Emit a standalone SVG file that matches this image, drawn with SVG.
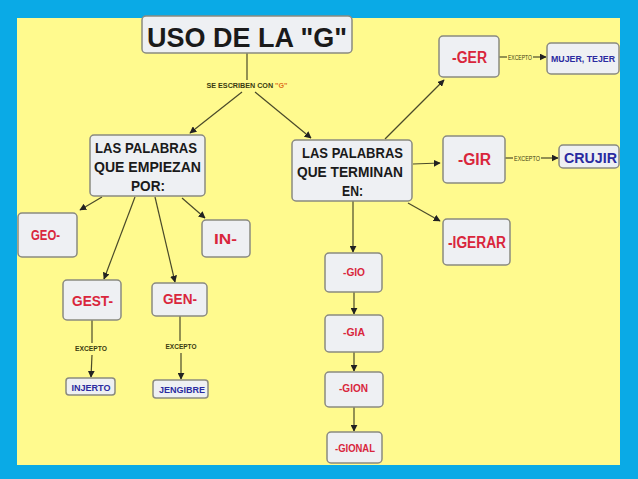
<svg xmlns="http://www.w3.org/2000/svg" width="638" height="479" viewBox="0 0 638 479">
<defs>
<style>
.box{fill:#eef0f3;stroke:#8a8a80;stroke-width:1.5}
.t{font-family:"Liberation Sans",Arial,sans-serif;font-weight:bold;text-anchor:middle}
.blk{fill:#1a1a1a}
.red{fill:#d9263c}
.blu{fill:#2a2aa0}
.lbl{font-family:"Liberation Sans",Arial,sans-serif;font-weight:bold;font-size:6.5px;fill:#3a3a10;text-anchor:middle}
.c{stroke:#4a4a2a;stroke-width:1.2;fill:none}
.ca{stroke:#4a4a2a;stroke-width:1.2;fill:none;marker-end:url(#ah)}
</style>
<marker id="ah" viewBox="0 0 10 10" refX="9" refY="5" markerWidth="7" markerHeight="7" markerUnits="userSpaceOnUse" orient="auto">
<path d="M0,0 L10,5 L0,10 z" fill="#222"/>
</marker>
</defs>
<rect x="0" y="0" width="638" height="479" fill="#0aaae6"/>
<rect x="17" y="18" width="603" height="447" fill="#fffa8e"/>

<g id="connectors">
<line class="c" x1="247" y1="53" x2="247" y2="80"/>
<text class="lbl" x="247" y="88" textLength="81" lengthAdjust="spacingAndGlyphs">SE ESCRIBEN  CON <tspan fill="#e07020">"G"</tspan></text>
<line class="ca" x1="242" y1="92" x2="190" y2="133"/>
<line class="ca" x1="255" y1="92" x2="311" y2="138"/>
<line class="ca" x1="102" y1="197" x2="80" y2="210"/>
<line class="ca" x1="182" y1="198" x2="205" y2="218"/>
<line class="ca" x1="135" y1="197" x2="104" y2="279"/>
<line class="ca" x1="155" y1="197" x2="175" y2="282"/>
<line class="c" x1="92" y1="320" x2="92" y2="343"/>
<text class="lbl" x="91" y="351" textLength="32" lengthAdjust="spacingAndGlyphs">EXCEPTO</text>
<line class="ca" x1="92" y1="355" x2="91" y2="377"/>
<line class="c" x1="180" y1="316" x2="180" y2="341"/>
<text class="lbl" x="181" y="349" textLength="31" lengthAdjust="spacingAndGlyphs">EXCEPTO</text>
<line class="ca" x1="181" y1="353" x2="181" y2="379"/>
<line class="ca" x1="385" y1="139" x2="444" y2="80"/>
<line class="ca" x1="413" y1="164" x2="440" y2="163"/>
<line class="ca" x1="408" y1="203" x2="440" y2="221"/>
<line class="ca" x1="353" y1="201" x2="353" y2="252"/>
<line class="ca" x1="354" y1="292" x2="354" y2="314"/>
<line class="ca" x1="354" y1="352" x2="354" y2="371"/>
<line class="ca" x1="354" y1="407" x2="354" y2="431"/>
<line class="c" x1="499" y1="57" x2="507" y2="57"/>
<text class="lbl" x="520" y="59.5" style="font-weight:normal" textLength="24" lengthAdjust="spacingAndGlyphs">EXCEPTO</text>
<line class="ca" x1="533" y1="57" x2="546" y2="57"/>
<line class="c" x1="505" y1="158" x2="513" y2="158"/>
<text class="lbl" x="527" y="160.5" style="font-weight:normal" textLength="26" lengthAdjust="spacingAndGlyphs">EXCEPTO</text>
<line class="ca" x1="541" y1="158" x2="558" y2="158"/>
</g>

<g id="title">
<rect class="box" x="142" y="16" width="210" height="37" rx="4"/>
<text class="t blk" x="247" y="47" font-size="28" textLength="200" lengthAdjust="spacingAndGlyphs">USO DE LA "G"</text>
</g>
<g id="empiezan">
<rect class="box" x="90" y="135" width="115" height="61" rx="4"/>
<text class="t blk" font-size="15"><tspan x="146" y="153" textLength="102" lengthAdjust="spacingAndGlyphs">LAS PALABRAS</tspan></text>
<text class="t blk" font-size="15" x="147.5" y="172" textLength="107" lengthAdjust="spacingAndGlyphs">QUE EMPIEZAN</text>
<text class="t blk" font-size="15" x="148" y="191" textLength="34" lengthAdjust="spacingAndGlyphs">POR:</text>
</g>
<g id="geo">
<rect class="box" x="18" y="213" width="59" height="44" rx="4"/>
<text class="t red" x="45.5" y="240" font-size="14" textLength="29" lengthAdjust="spacingAndGlyphs">GEO-</text>
</g>
<g id="in">
<rect class="box" x="202" y="220" width="48" height="37" rx="4"/>
<text class="t red" x="225.5" y="244" font-size="14" textLength="23" lengthAdjust="spacingAndGlyphs">IN-</text>
</g>
<g id="gest">
<rect class="box" x="63" y="280" width="58" height="40" rx="4"/>
<text class="t red" x="92.5" y="306" font-size="15" textLength="41" lengthAdjust="spacingAndGlyphs">GEST-</text>
</g>
<g id="gen">
<rect class="box" x="152" y="283" width="55" height="33" rx="4"/>
<text class="t red" x="180" y="304" font-size="15" textLength="34" lengthAdjust="spacingAndGlyphs">GEN-</text>
</g>
<g id="injerto">
<rect class="box" x="66" y="378" width="49" height="17" rx="3"/>
<text class="t blu" x="91" y="390.5" font-size="9" textLength="39" lengthAdjust="spacingAndGlyphs">INJERTO</text>
</g>
<g id="jengibre">
<rect class="box" x="153" y="380" width="55" height="18" rx="3"/>
<text class="t blu" x="182" y="392.5" font-size="9" textLength="46" lengthAdjust="spacingAndGlyphs">JENGIBRE</text>
</g>
<g id="terminan">
<rect class="box" x="292" y="140" width="120" height="61" rx="4"/>
<text class="t blk" font-size="15.5" x="352.5" y="158" textLength="101" lengthAdjust="spacingAndGlyphs">LAS PALABRAS</text>
<text class="t blk" font-size="15.5" x="350" y="177" textLength="106" lengthAdjust="spacingAndGlyphs">QUE TERMINAN</text>
<text class="t blk" font-size="15.5" x="352.5" y="196" textLength="21" lengthAdjust="spacingAndGlyphs">EN:</text>
</g>
<g id="ger">
<rect class="box" x="439" y="36" width="60" height="41" rx="4"/>
<text class="t red" x="469.5" y="63" font-size="16" textLength="35" lengthAdjust="spacingAndGlyphs">-GER</text>
</g>
<g id="mujer">
<rect class="box" x="547" y="43" width="72" height="31" rx="4"/>
<text class="t blu" x="583" y="62" font-size="9.5" textLength="64" lengthAdjust="spacingAndGlyphs">MUJER, TEJER</text>
</g>
<g id="gir">
<rect class="box" x="443" y="136" width="62" height="47" rx="4"/>
<text class="t red" x="474.5" y="165" font-size="16" textLength="33" lengthAdjust="spacingAndGlyphs">-GIR</text>
</g>
<g id="crujir">
<rect class="box" x="559" y="145" width="60" height="23" rx="4"/>
<text class="t blu" x="590.5" y="163" font-size="15" textLength="53" lengthAdjust="spacingAndGlyphs">CRUJIR</text>
</g>
<g id="igerar">
<rect class="box" x="443" y="219" width="67" height="46" rx="4"/>
<text class="t red" x="477" y="248" font-size="16" textLength="58" lengthAdjust="spacingAndGlyphs">-IGERAR</text>
</g>
<g id="gio">
<rect class="box" x="325" y="253" width="57" height="39" rx="4"/>
<text class="t red" x="354" y="276" font-size="10" textLength="22" lengthAdjust="spacingAndGlyphs">-GIO</text>
</g>
<g id="gia">
<rect class="box" x="325" y="315" width="58" height="37" rx="4"/>
<text class="t red" x="354" y="336" font-size="10" textLength="22" lengthAdjust="spacingAndGlyphs">-GIA</text>
</g>
<g id="gion">
<rect class="box" x="325" y="372" width="58" height="35" rx="4"/>
<text class="t red" x="353.5" y="392" font-size="10" textLength="29" lengthAdjust="spacingAndGlyphs">-GION</text>
</g>
<g id="gional">
<rect class="box" x="327" y="432" width="55" height="31" rx="4"/>
<text class="t red" x="355" y="452" font-size="10" textLength="40" lengthAdjust="spacingAndGlyphs">-GIONAL</text>
</g>
</svg>
